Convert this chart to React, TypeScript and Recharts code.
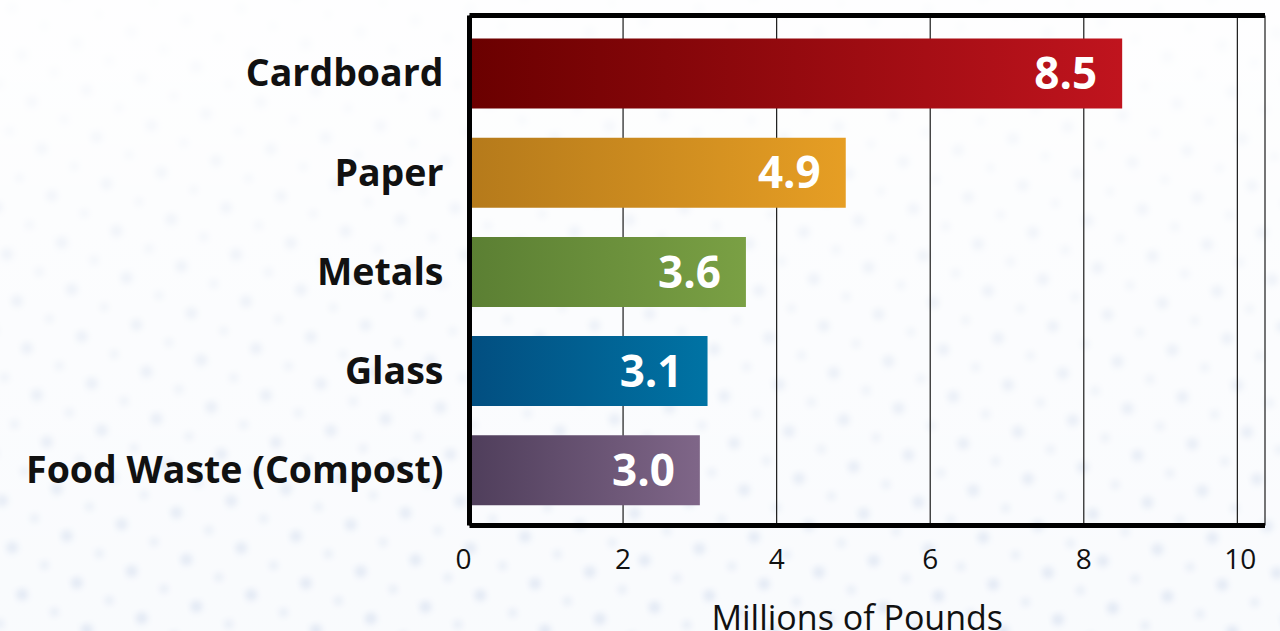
import { BarChart, Bar, XAxis, YAxis, CartesianGrid, Cell, LabelList } from 'recharts';

const categories = ['Cardboard', 'Paper', 'Metals', 'Glass', 'Food Waste (Compost)'];
const pounds = [8.5, 4.9, 3.6, 3.1, 3.0];
const xTicks = [0, 2, 4, 6, 8, 10];

// left (dark) -> right (light) stops for each bar
const barStops: [string, string][] = [
  ['#6a0000', '#c0141e'],
  ['#b57a1b', '#e69e24'],
  ['#5b7f33', '#7aa044'],
  ['#024e80', '#0073a4'],
  ['#4f3e5b', '#7f6688'],
];

const data = categories.map((name, i) => ({ name, value: pounds[i] }));

const FONT = '"Open Sans", "Noto Sans", sans-serif';

function XTick(props: any) {
  const { x, y, payload } = props;
  const dx = payload.value === 0 ? -6 : payload.value === 10 ? 3 : 0;
  return (
    <text x={x + dx} y={y} dy="0.71em" textAnchor="middle" fill="#111" fontSize={28} fontFamily={FONT}>
      {payload.value}
    </text>
  );
}

function DotBackground() {
  return (
    <svg width={1280} height={631} style={{ position: 'absolute', left: 0, top: 0 }}>
      <defs>
        <filter id="soft" x="-50%" y="-50%" width="200%" height="200%">
          <feGaussianBlur stdDeviation="3" />
        </filter>
        <pattern id="dots" width="56" height="48" patternUnits="userSpaceOnUse" patternTransform="rotate(-12)">
          <circle cx="10" cy="10" r="6" fill="#c9d6ea" filter="url(#soft)" />
          <circle cx="38" cy="34" r="4.5" fill="#d3deee" filter="url(#soft)" />
        </pattern>
        <linearGradient id="fade" x1="0" y1="0" x2="0" y2="1">
          <stop offset="0%" stopColor="#fff" stopOpacity={0.9} />
          <stop offset="40%" stopColor="#fff" stopOpacity={0.55} />
          <stop offset="100%" stopColor="#fff" stopOpacity={0.15} />
        </linearGradient>
      </defs>
      <rect width="1280" height="631" fill="#f8fafd" />
      <rect width="1280" height="631" fill="url(#dots)" opacity={0.6} />
      <rect width="1280" height="631" fill="url(#fade)" />
    </svg>
  );
}

export default function App() {
  return (
    <div style={{ position: 'absolute', left: 0, top: 0, width: 1280, height: 631, overflow: 'hidden' }}>
      <DotBackground />
      <div style={{ position: 'absolute', left: 0, top: 0 }}>
        <BarChart
          width={1280}
          height={631}
          data={data}
          layout="vertical"
          margin={{ top: 13.5, right: 15, bottom: 0, left: 0 }}
        >
          <defs>
            {barStops.map(([a, b], i) => (
              <linearGradient key={i} id={`bar-grad-${i}`} x1="0" y1="0" x2="1" y2="0">
                <stop offset="0%" stopColor={a} />
                <stop offset="100%" stopColor={b} />
              </linearGradient>
            ))}
          </defs>
          <CartesianGrid horizontal={false} stroke="#1a1a1a" strokeWidth={1.2} />
          <XAxis
            type="number"
            domain={[0, 10.36]}
            ticks={xTicks}
            height={105.5}
            tickSize={0}
            tickMargin={24}
            tick={<XTick />}
            axisLine={{ stroke: '#000', strokeWidth: 5 }}
            label={{
              value: 'Millions of Pounds',
              position: 'insideBottom',
              offset: 1,
              dx: -10,
              fontSize: 34,
              fill: '#111',
              fontFamily: FONT,
            }}
          />
          <XAxis
            xAxisId="top"
            orientation="top"
            type="number"
            domain={[0, 10.36]}
            ticks={xTicks}
            height={2}
            tick={false}
            tickLine={false}
            axisLine={{ stroke: '#000', strokeWidth: 5 }}
          />
          <YAxis
            type="category"
            dataKey="name"
            width={469.5}
            tickSize={0}
            tickMargin={26}
            padding={{ top: 8, bottom: 6 }}
            axisLine={{ stroke: '#000', strokeWidth: 5 }}
            tick={{ fill: '#111', fontSize: 37.5, fontWeight: 700, fontFamily: FONT }}
          />
          <Bar dataKey="value" barSize={70} isAnimationActive={false}>
            {data.map((d, i) => (
              <Cell key={d.name} fill={`url(#bar-grad-${i})`} />
            ))}
            <LabelList
              dataKey="value"
              position="insideRight"
              offset={25}
              formatter={(v: any) => Number(v).toFixed(1)}
              fill="#fff"
              fontSize={44}
              fontWeight={700}
              fontFamily={FONT}
            />
          </Bar>
        </BarChart>
      </div>
    </div>
  );
}
